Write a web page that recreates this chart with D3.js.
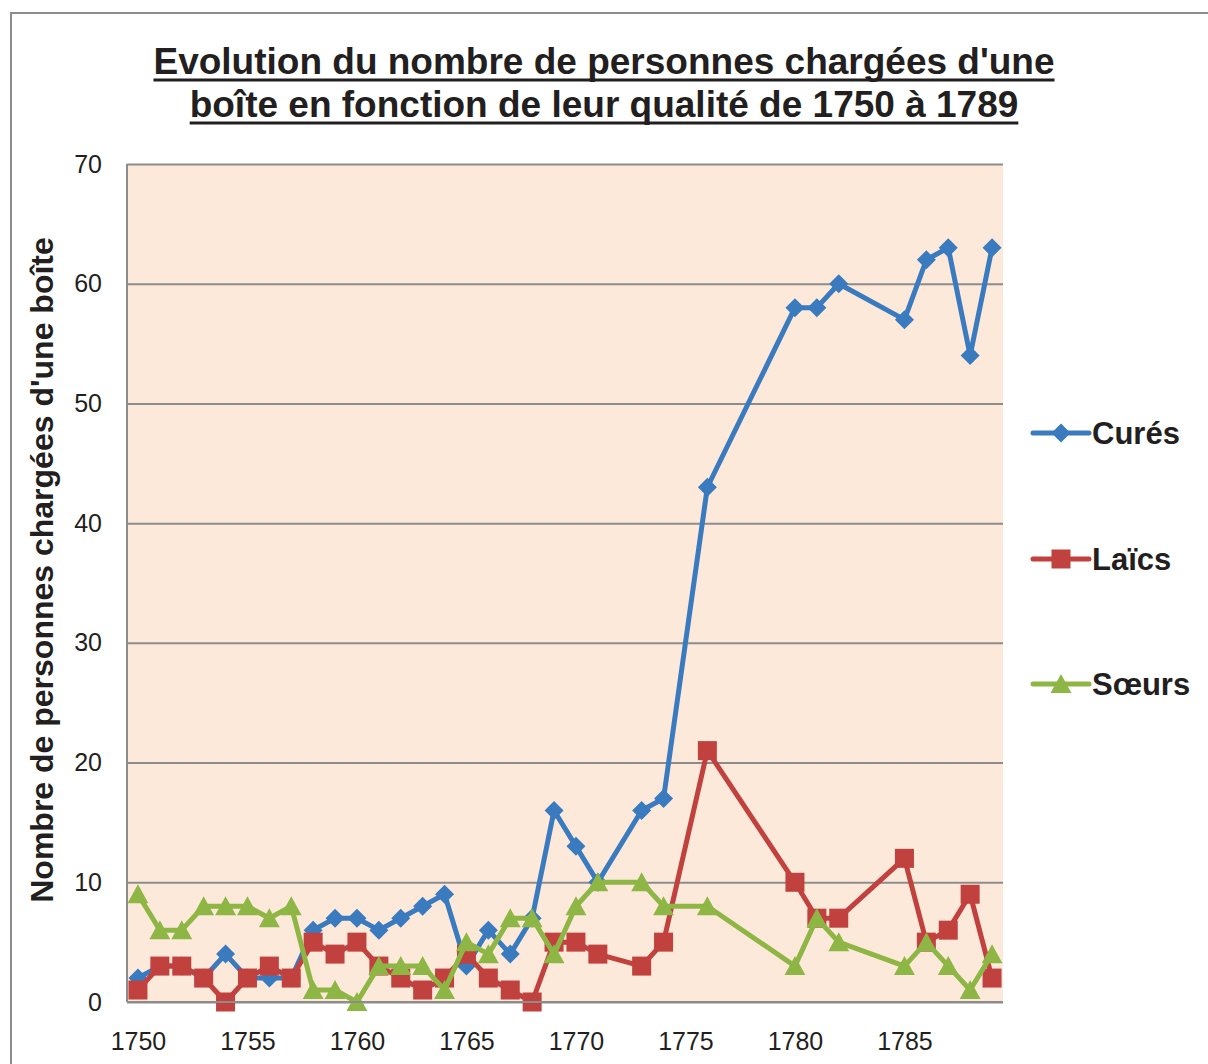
<!DOCTYPE html>
<html>
<head>
<meta charset="utf-8">
<script src="https://cdn.jsdelivr.net/npm/d3@7"></script>
<style>
  body { margin: 0; background: #fff; }
  svg { display: block; font-family: "Liberation Sans", Arial, sans-serif; }
</style>
</head>
<body>
<svg width="1208" height="1064"></svg>
<script>
// années (les années sans données sont absentes)
const years = [1750, 1751, 1752, 1753, 1754, 1755, 1756, 1757, 1758, 1759, 1760,
  1761, 1762, 1763, 1764, 1765, 1766, 1767, 1768, 1769, 1770, 1771,
  1773, 1774, 1776, 1780, 1781, 1782, 1785, 1786, 1787, 1788, 1789];
const cures = [2, 3, 3, 2, 4, 2, 2, 2, 6, 7, 7, 6, 7, 8, 9, 3, 6, 4, 7, 16, 13, 10,
  16, 17, 43, 58, 58, 60, 57, 62, 63, 54, 63];
const laics = [1, 3, 3, 2, 0, 2, 3, 2, 5, 4, 5, 3, 2, 1, 2, 4, 2, 1, 0, 5, 5, 4,
  3, 5, 21, 10, 7, 7, 12, 5, 6, 9, 2];
const soeurs = [9, 6, 6, 8, 8, 8, 7, 8, 1, 1, 0, 3, 3, 3, 1, 5, 4, 7, 7, 4, 8, 10,
  10, 8, 8, 3, 7, 5, 3, 5, 3, 1, 4];
const xTicks = [1750, 1755, 1760, 1765, 1770, 1775, 1780, 1785];
const yTicks = [0, 10, 20, 30, 40, 50, 60, 70];
const titleLines = ["Evolution du nombre de personnes chargées d'une",
  "boîte en fonction de leur qualité de 1750 à 1789"];
const yLabel = "Nombre de personnes chargées d'une boîte";

const series = [
  {name: "Curés", values: cures, color: "#3a7abf", marker: "diamond"},
  {name: "Laïcs", values: laics, color: "#c0413e", marker: "square"},
  {name: "Sœurs", values: soeurs, color: "#8eb645", marker: "triangle"}
];

const svg = d3.select("svg");
const plot = {left: 127, top: 164, right: 1003, bottom: 1002};

const x = d3.scaleLinear().domain([1749.5, 1789.5]).range([plot.left, plot.right]);
const y = d3.scaleLinear().domain([0, 70]).range([plot.bottom, plot.top]);

// cadre extérieur
svg.append("rect")
  .attr("x", 11).attr("y", 13)
  .attr("width", 1300).attr("height", 1200)
  .attr("fill", "none").attr("stroke", "#8c8c8c").attr("stroke-width", 2);

// fond de la zone de tracé
svg.append("rect")
  .attr("x", plot.left).attr("y", plot.top)
  .attr("width", plot.right - plot.left).attr("height", plot.bottom - plot.top)
  .attr("fill", "#fde9da");

// quadrillage
svg.append("g")
  .attr("transform", `translate(${plot.left},0)`)
  .call(d3.axisLeft(y).tickValues(yTicks).tickSize(-(plot.right - plot.left)).tickFormat(""))
  .call(g => g.select(".domain").remove())
  .call(g => g.selectAll("line").attr("stroke", "#8c8c8c").attr("stroke-width", 2));

// axe vertical
svg.append("line")
  .attr("x1", plot.left).attr("x2", plot.left)
  .attr("y1", plot.top).attr("y2", plot.bottom)
  .attr("stroke", "#8c8c8c").attr("stroke-width", 2);

// étiquettes Y
svg.append("g")
  .attr("transform", `translate(${plot.left},0)`)
  .call(d3.axisLeft(y).tickValues(yTicks).tickSize(0).tickPadding(25))
  .call(g => g.select(".domain").remove())
  .call(g => g.selectAll("text")
    .attr("font-family", "Liberation Sans, Arial, sans-serif")
    .attr("font-size", 25).attr("fill", "#231f20"));

// étiquettes X
svg.append("g")
  .attr("transform", `translate(0,${plot.bottom})`)
  .call(d3.axisBottom(x).tickValues(xTicks).tickSize(0).tickPadding(30).tickFormat(d3.format("d")))
  .call(g => g.select(".domain").remove())
  .call(g => g.selectAll("text")
    .attr("font-family", "Liberation Sans, Arial, sans-serif")
    .attr("font-size", 25).attr("fill", "#231f20"));

// formes des marqueurs
function markerPath(type, s) {
  if (type === "diamond") return `M0,${-s}L${s},0L0,${s}L${-s},0Z`;
  if (type === "square") return `M${-s},${-s}H${s}V${s}H${-s}Z`;
  return `M0,${-s * 1.05}L${s * 1.1},${s * 0.95}L${-s * 1.1},${s * 0.95}Z`;
}
const markerSize = {diamond: 9.5, square: 9.5, triangle: 9.5};

const line = d3.line()
  .x((d, i) => x(years[i]))
  .y(d => y(d));

series.forEach(s => {
  const g = svg.append("g");
  g.append("path")
    .attr("d", line(s.values))
    .attr("fill", "none")
    .attr("stroke", s.color)
    .attr("stroke-width", 5)
    .attr("stroke-linejoin", "round");
  g.selectAll("path.m")
    .data(s.values)
    .join("path")
    .attr("class", "m")
    .attr("transform", (d, i) => `translate(${x(years[i])},${y(d)})`)
    .attr("d", markerPath(s.marker, markerSize[s.marker]))
    .attr("fill", s.color);
});

// axe horizontal (par-dessus)
svg.append("line")
  .attr("x1", plot.left).attr("x2", plot.right)
  .attr("y1", plot.bottom).attr("y2", plot.bottom)
  .attr("stroke", "#8c8c8c").attr("stroke-width", 2);

// légende
const legendY = [433, 559, 684];
series.forEach((s, i) => {
  const lg = svg.append("g").attr("transform", `translate(1033,${legendY[i]})`);
  lg.append("line")
    .attr("x1", 0).attr("x2", 56)
    .attr("stroke", s.color).attr("stroke-width", 5).attr("stroke-linecap", "round");
  lg.append("path")
    .attr("transform", "translate(28,0)")
    .attr("d", markerPath(s.marker, markerSize[s.marker]))
    .attr("fill", s.color);
  lg.append("text")
    .attr("x", 59).attr("y", 0).attr("dy", "0.36em")
    .attr("font-size", 31).attr("font-weight", "bold").attr("fill", "#231f20")
    .text(s.name);
});

// titre souligné
titleLines.forEach((t, i) => {
  const ty = 74 + i * 43;
  const txt = svg.append("text")
    .attr("x", 604).attr("y", ty)
    .attr("text-anchor", "middle")
    .attr("font-size", 37).attr("font-weight", "bold").attr("fill", "#231f20")
    .text(t);
  const w = txt.node().getComputedTextLength();
  svg.append("line")
    .attr("x1", 604 - w / 2).attr("x2", 604 + w / 2)
    .attr("y1", ty + 6).attr("y2", ty + 6)
    .attr("stroke", "#231f20").attr("stroke-width", 3);
});

// titre de l'axe Y
svg.append("text")
  .attr("transform", "translate(53,570) rotate(-90)")
  .attr("text-anchor", "middle")
  .attr("font-size", 32).attr("font-weight", "bold").attr("fill", "#231f20")
  .text(yLabel);
</script>
</body>
</html>
